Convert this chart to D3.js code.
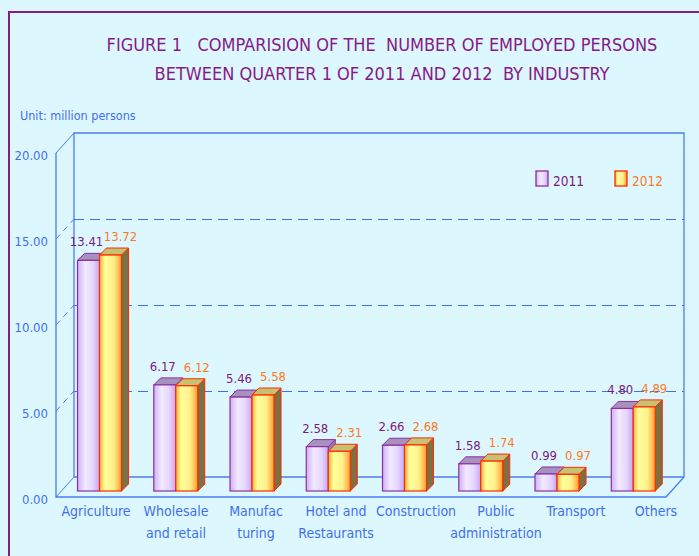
<!DOCTYPE html>
<html>
<head>
<meta charset="utf-8">
<script src="https://cdn.jsdelivr.net/npm/d3@7"></script>
<style>
  body { margin: 0; background: #ddf7fe; }
  text { font-family: "Liberation Sans Narrow", "DejaVu Sans Condensed", "Liberation Sans", sans-serif; }
</style>
</head>
<body>
<div id="chart"></div>
<script>
// Chart data
var categories = ["Agriculture", "Wholesale and retail", "Manufacturing", "Hotel and Restaurants",
                  "Construction", "Public administration", "Transport", "Others"];
var categoryLines = [["Agriculture"], ["Wholesale", "and retail"], ["Manufac", "turing"], ["Hotel and", "Restaurants"],
                     ["Construction"], ["Public", "administration"], ["Transport"], ["Others"]];
var years = ["2011", "2012"];
var values2011 = [13.41, 6.17, 5.46, 2.58, 2.66, 1.58, 0.99, 4.80];
var values2012 = [13.72, 6.12, 5.58, 2.31, 2.68, 1.74, 0.97, 4.89];
var yTicks = [0, 5, 10, 15, 20];
var titleLines = ["FIGURE 1   COMPARISION OF THE  NUMBER OF EMPLOYED PERSONS",
                  "BETWEEN QUARTER 1 OF 2011 AND 2012  BY INDUSTRY"];
var unitLabel = "Unit: million persons";

function init() {
    var w = 699;
    var h = 556;
    var axisColor = "#4b7cf2";
    var textBlue = "#3f6ff0";
    var purple = "#861a86";

    var svg = d3.select("#chart")
        .append("svg")
        .attr("width", w)
        .attr("height", h);

    svg.append("rect").attr("width", w).attr("height", h).attr("fill", "#ddf7fe");

    // frame (cropped on right and bottom)
    svg.append("path")
        .attr("d", "M9," + h + "V12H" + w)
        .attr("fill", "none")
        .attr("stroke", purple)
        .attr("stroke-width", 2);

    // gradients
    var defs = svg.append("defs");
    var g1 = defs.append("linearGradient").attr("id", "grad2011");
    [["0%", "#cfb0f5"], ["35%", "#f2eaff"], ["70%", "#e6d6ff"], ["100%", "#c9a4f0"]].forEach(function (s) {
        g1.append("stop").attr("offset", s[0]).attr("stop-color", s[1]);
    });
    var g2 = defs.append("linearGradient").attr("id", "grad2012");
    [["0%", "#ffb23a"], ["25%", "#ffff9c"], ["65%", "#fff08a"], ["100%", "#ff9d30"]].forEach(function (s) {
        g2.append("stop").attr("offset", s[0]).attr("stop-color", s[1]);
    });

    var style = {
        "2011": { fill: "url(#grad2011)", stroke: "#8e2ea6", top: "#a692bd", side: "#9a78b8", label: "#7c1a7c", shift: -2 },
        "2012": { fill: "url(#grad2012)", stroke: "#ff2a00", top: "#c9c172", side: "#7b7142", label: "#ff7a1e", shift: 10 }
    };
    var valuesByYear = { "2011": values2011, "2012": values2012 };

    // Titles
    svg.selectAll(".title")
        .data(titleLines)
        .enter().append("text")
        .attr("x", 382)
        .attr("y", function (d, i) { return 51 + i * 29; })
        .attr("text-anchor", "middle")
        .attr("fill", purple)
        .style("font-size", "18px")
        .style("white-space", "pre")
        .text(function (d) { return d; });

    svg.append("text")
        .attr("x", 20)
        .attr("y", 120)
        .attr("fill", textBlue)
        .style("font-size", "12.5px")
        .text(unitLabel);

    // Scales
    var xBand = d3.scaleBand().domain(categories).range([56, 666]);
    var xInner = d3.scaleBand().domain(years).range([-22, 22]);
    var xLabel = d3.scalePoint().domain(categories).range([96, 656]);
    var yScale = d3.scaleLinear().domain([0, 20]).range([497, 153]);

    var dx = 18, dy = -20;       // depth of the plot box
    var f = 0.3;                 // where the bars stand inside the box
    var bx = 7, by = -7;         // depth of each bar

    var x0 = xBand.range()[0], x1 = xBand.range()[1];
    var y0 = yScale(0), y20 = yScale(20);

    // back wall grid lines
    svg.selectAll(".grid")
        .data(yTicks.filter(function (t) { return t > 0 && t < 20; }))
        .enter().append("line")
        .attr("x1", x0 + dx).attr("x2", x1 + dx)
        .attr("y1", function (d) { return yScale(d) + dy + 0.5; })
        .attr("y2", function (d) { return yScale(d) + dy + 0.5; })
        .attr("stroke", "#3d6ef5")
        .attr("stroke-width", 1.2)
        .attr("stroke-dasharray", "10,6");

    // side wall ticks
    svg.selectAll(".sidetick")
        .data(yTicks)
        .enter().append("line")
        .attr("x1", x0).attr("x2", x0 + dx)
        .attr("y1", function (d) { return yScale(d); })
        .attr("y2", function (d) { return yScale(d) + dy; })
        .attr("stroke", axisColor)
        .attr("stroke-dasharray", function (d) { return (d === 0 || d === 20) ? null : "6,5"; });

    // box edges
    svg.append("path")
        .attr("d",
            "M" + x0 + "," + y20 + "V" + y0 + "H" + x1 + "L" + (x1 + dx) + "," + (y0 + dy) +
            "V" + (y20 + dy) + "H" + (x0 + dx) + "V" + (y0 + dy) + "H" + (x1 + dx))
        .attr("fill", "none")
        .attr("stroke", axisColor)
        .attr("stroke-width", 1.3);

    // Y axis labels
    var yAxis = d3.axisLeft(yScale)
        .tickValues(yTicks)
        .tickFormat(d3.format(".2f"))
        .tickSize(0)
        .tickPadding(8);

    var yG = svg.append("g")
        .attr("transform", "translate(" + x0 + ",0)")
        .call(yAxis);
    yG.select(".domain").remove();
    yG.selectAll("text")
        .attr("fill", textBlue)
        .attr("dy", "0.5em")
        .style("font-size", "13px")
        .style("font-family", null);

    // Bars
    var groups = svg.selectAll(".cat")
        .data(categories)
        .enter().append("g")
        .attr("transform", function (d) {
            return "translate(" + (xBand(d) + xBand.bandwidth() / 2 + dx * f) + ",0)";
        });

    years.forEach(function (yr) {
        var st = style[yr];
        var vals = valuesByYear[yr];
        var base = y0 + dy * f;

        groups.each(function (c, i) {
            var g = d3.select(this);
            var bxl = xInner(yr);
            var bw = xInner.bandwidth();
            var top = yScale(vals[i]) + dy * f;

            g.append("path")
                .attr("d", "M" + (bxl + bw) + "," + top + "L" + (bxl + bw + bx) + "," + (top + by) +
                    "V" + (base + by) + "L" + (bxl + bw) + "," + base + "Z")
                .attr("fill", st.side)
                .attr("stroke", st.stroke);

            g.append("path")
                .attr("d", "M" + bxl + "," + top + "L" + (bxl + bx) + "," + (top + by) +
                    "H" + (bxl + bw + bx) + "L" + (bxl + bw) + "," + top + "Z")
                .attr("fill", st.top)
                .attr("stroke", st.stroke);

            g.append("rect")
                .attr("x", bxl)
                .attr("y", top)
                .attr("width", bw)
                .attr("height", base - top)
                .attr("fill", st.fill)
                .attr("stroke", st.stroke)
                .attr("stroke-width", 1.2);
        });
    });

    // value labels (drawn last so they sit on top)
    years.forEach(function (yr) {
        var st = style[yr];
        var vals = valuesByYear[yr];
        groups.append("text")
            .attr("x", xInner(yr) + xInner.bandwidth() / 2 + st.shift)
            .attr("y", function (c, i) { return yScale(vals[i]) + dy * f - 14; })
            .attr("text-anchor", "middle")
            .attr("fill", st.label)
            .style("font-size", "13px")
            .text(function (c, i) { return d3.format(".2f")(vals[i]); });
    });

    // X labels
    var xl = svg.selectAll(".xlabel")
        .data(categories)
        .enter().append("text")
        .attr("text-anchor", "middle")
        .attr("fill", textBlue)
        .style("font-size", "14px");
    xl.selectAll("tspan")
        .data(function (d, i) { return categoryLines[i].map(function (t) { return { t: t, c: d }; }); })
        .enter().append("tspan")
        .attr("x", function (d) { return xLabel(d.c); })
        .attr("y", function (d, j) { return 516 + j * 22; })
        .text(function (d) { return d.t; });

    // Legend
    var legX = [536, 615];
    var leg = svg.selectAll(".legend")
        .data(years)
        .enter().append("g")
        .attr("transform", function (d, i) { return "translate(" + legX[i] + ",171)"; });
    leg.append("rect")
        .attr("width", 12).attr("height", 15)
        .attr("fill", function (d) { return style[d].fill; })
        .attr("stroke", function (d) { return style[d].stroke; })
        .attr("stroke-width", 1.3);
    leg.append("text")
        .attr("x", 17).attr("y", 15)
        .attr("fill", function (d) { return style[d].label; })
        .style("font-size", "13.5px")
        .text(function (d) { return d; });
}

init();
</script>
</body>
</html>
